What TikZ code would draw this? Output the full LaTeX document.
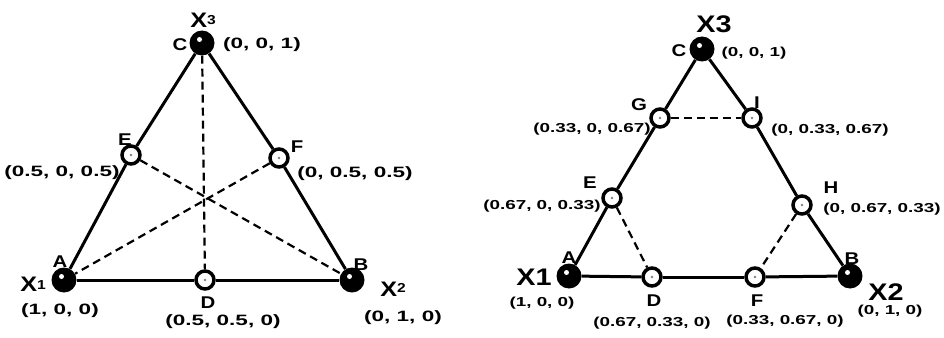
\documentclass[tikz,border=0pt]{standalone}
\usepackage{fontspec}
\setmainfont{Liberation Sans}
\usepackage{graphicx}
\newcommand\wcoord[1]{\scalebox{1.5}[1]{#1}}
\newcommand\wcoordr[1]{\scalebox{1.45}[1]{#1}}
\newcommand\wlet[1]{\scalebox{1.2}[1]{#1}}
\begin{document}
\begin{tikzpicture}[x=1pt,y=-1pt,
  bigdot/.style={circle, fill=black, minimum size=25pt, inner sep=0pt,
    path picture={\fill[white] ([xshift=-2.5pt,yshift=3.5pt]path picture bounding box.center) circle (2.5pt);}},
  smalldot/.style={circle, draw=black, line width=3.5pt, fill=white, minimum size=18pt, inner sep=0pt,
    path picture={\fill[gray] (path picture bounding box.center) circle (1.3pt);}},
  edge/.style={line width=3pt},
  dedge/.style={line width=2.2pt, dash pattern=on 8pt off 5pt},
  coordl/.style={font=\fontsize{15}{16}\selectfont\bfseries, inner sep=0pt},
  coordr/.style={font=\fontsize{13}{14}\selectfont\bfseries, inner sep=0pt},
  lbl/.style={font=\fontsize{17}{18}\selectfont\bfseries, inner sep=0pt},
  xl/.style={font=\fontsize{21}{21}\selectfont\bfseries, inner sep=0pt},
  xr/.style={font=\fontsize{24}{24}\selectfont\bfseries, inner sep=0pt}
]
\useasboundingbox (0,0) rectangle (944,337);
\fill[white] (0,0) rectangle (944,337);
% ---------- left triangle ----------
\node[bigdot] (lA) at (64,280) {};
\node[bigdot] (lB) at (352,280) {};
\node[bigdot] (lC) at (202,43) {};
\node[smalldot] (lE) at (131,155) {};
\node[smalldot] (lF) at (279,158) {};
\node[smalldot] (lD) at (205,280) {};
\draw[edge] (lA) -- (lD);
\draw[edge] (lD) -- (lB);
\draw[edge] (lA) -- (lE);
\draw[edge] (lE) -- (lC);
\draw[edge] (lC) -- (lF);
\draw[edge] (lF) -- (lB);
\draw[dedge] (lE) -- (lB);
\draw[dedge] (lF) -- (lA);
\draw[dedge] (lC) -- (lD);
\node[xl] (lx3) at (203,20) {\wlet{X\raisebox{3pt}{\fontsize{13}{13}\selectfont 3}}};
\node[lbl] (lcC) at (180,45) {\wlet{C}};
\node[coordl] (lcc) at (262,45) {\wcoord{(0, 0, 1)}};
\node[lbl] (leE) at (125,140) {\wlet{E}};
\node[coordl] (lce) at (62,173) {\wcoord{(0.5, 0, 0.5)}};
\node[lbl] (lfF) at (297,147) {\wlet{F}};
\node[coordl] (lcf) at (355,174) {\wcoord{(0, 0.5, 0.5)}};
\node[lbl] (laA) at (60,262) {\wlet{A}};
\node[xl] (lx1) at (33,284) {\wlet{X\raisebox{2pt}{\fontsize{13}{13}\selectfont 1}}};
\node[coordl] (lca) at (60,311) {\wcoord{(1, 0, 0)}};
\node[lbl] (ldD) at (208,303) {\wlet{D}};
\node[coordl] (lcd) at (223,322) {\wcoord{(0.5, 0.5, 0)}};
\node[lbl] (lbB) at (361,265) {\wlet{B}};
\node[xl] (lx2) at (393,289) {\wlet{X\raisebox{4pt}{\fontsize{13}{13}\selectfont 2}}};
\node[coordl] (lcb) at (403,318) {\wcoord{(0, 1, 0)}};
% ---------- right triangle ----------
\node[bigdot] (rA) at (569,276) {};
\node[bigdot] (rB) at (850,276) {};
\node[bigdot] (rC) at (702,49) {};
\node[smalldot] (rG) at (660,118) {};
\node[smalldot] (rI) at (752,118) {};
\node[smalldot] (rE) at (612,198) {};
\node[smalldot] (rH) at (802,205) {};
\node[smalldot] (rD) at (652,277) {};
\node[smalldot] (rF) at (755,277) {};
\draw[edge] (rA) -- (rD);
\draw[edge] (rD) -- (rF);
\draw[edge] (rF) -- (rB);
\draw[edge] (rA) -- (rE);
\draw[edge] (rE) -- (rG);
\draw[edge] (rG) -- (rC);
\draw[edge] (rC) -- (rI);
\draw[edge] (rI) -- (rH);
\draw[edge] (rH) -- (rB);
\draw[dedge] (rG) -- (rI);
\draw[dedge] (rE) -- (rD);
\draw[dedge] (rH) -- (rF);
\node[xr] (rx3) at (714,24) {\wlet{X3}};
\node[lbl] (rcC) at (679,51) {\wlet{C}};
\node[coordr] (rcc) at (754,53) {\wcoordr{(0, 0, 1)}};
\node[lbl] (rgG) at (639,105) {\wlet{G}};
\node[coordr] (rcg) at (592,129) {\wcoordr{(0.33, 0, 0.67)}};
\node[lbl] (riI) at (757,103) {\wlet{I}};
\node[coordr] (rci) at (830,130) {\wcoordr{(0, 0.33, 0.67)}};
\node[lbl] (reE) at (590,183) {\wlet{E}};
\node[coordr] (rce) at (542,206) {\wcoordr{(0.67, 0, 0.33)}};
\node[lbl] (rhH) at (831,188) {\wlet{H}};
\node[coordr] (rch) at (882,209) {\wcoordr{(0, 0.67, 0.33)}};
\node[lbl] (raA) at (569,258) {\wlet{A}};
\node[xr] (rx1) at (534,277) {\wlet{X1}};
\node[coordr] (rca) at (542,303) {\wcoordr{(1, 0, 0)}};
\node[lbl] (rdD) at (654,301) {\wlet{D}};
\node[coordr] (rcd) at (652,323) {\wcoordr{(0.67, 0.33, 0)}};
\node[lbl] (rfF) at (757,301) {\wlet{F}};
\node[coordr] (rcf) at (785,321) {\wcoordr{(0.33, 0.67, 0)}};
\node[lbl] (rbB) at (852,259) {\wlet{B}};
\node[xr] (rx2) at (886,292) {\wlet{X2}};
\node[coordr] (rcb) at (890,311) {\wcoordr{(0, 1, 0)}};
\end{tikzpicture}
\end{document}
